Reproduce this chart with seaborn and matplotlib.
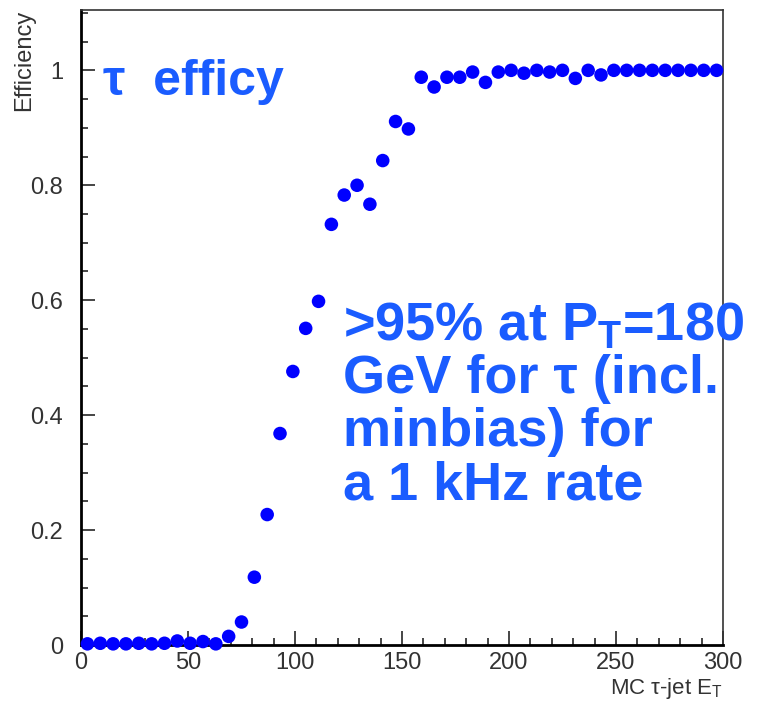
"""
Tau trigger efficiency vs MC tau-jet ET
"""

import numpy as np
import pandas as pd
import matplotlib
matplotlib.use("Agg")
import matplotlib.pyplot as plt
from matplotlib.ticker import MultipleLocator
import seaborn as sns

# ---------------------------------------------------------------------------
# Data (bin centres, 6 GeV bins)
# ---------------------------------------------------------------------------
et_bins = [3, 9, 15, 21, 27, 33, 39, 45, 51, 57, 63,
           69, 75, 81, 87, 93, 99, 105, 111, 117, 123, 129, 135, 141, 147, 153,
           159, 165, 171, 177, 183, 189, 195, 201, 207, 213, 219, 225, 231, 237,
           243, 249, 255, 261, 267, 273, 279, 285, 291, 297]
efficiency = [0.002, 0.003, 0.002, 0.002, 0.003, 0.002, 0.003, 0.007, 0.003, 0.006, 0.002,
              0.015, 0.040, 0.118, 0.227, 0.368, 0.476, 0.551, 0.598, 0.732, 0.783, 0.800,
              0.767, 0.843, 0.911, 0.898,
              0.988, 0.971, 0.988, 0.988, 0.997, 0.979, 0.997, 1.0, 0.995, 1.0, 0.997,
              1.0, 0.986, 1.0, 0.992, 1.0, 1.0, 1.0, 1.0, 1.0, 1.0, 1.0, 1.0, 1.0]

title_text = "\u03c4  efficy"
note_lines = [">95% at P$_{\\mathbf{T}}$=180",
              "GeV for \u03c4 (incl.",
              "minbias) for",
              "a 1 kHz rate"]

df = pd.DataFrame({"et": et_bins, "eff": efficiency})

sns.set_style("ticks")
plt.rcParams["font.family"] = ["Liberation Sans", "DejaVu Sans"]
plt.rcParams["mathtext.fontset"] = "custom"
plt.rcParams["mathtext.rm"] = "Liberation Sans"
plt.rcParams["mathtext.bf"] = "Liberation Sans:bold"

fig = plt.figure(figsize=(7.62, 7.02), dpi=100)
ax = fig.add_axes([81 / 762, 1 - 645 / 702, (723 - 81) / 762, (645 - 10) / 702])

sns.scatterplot(data=df, x="et", y="eff", ax=ax, color="#0000ff",
                s=95, edgecolor="none", marker="o", clip_on=False, zorder=3)

ax.set_xlim(0, 300)
ax.set_ylim(0, 1.105)
ax.xaxis.set_major_locator(MultipleLocator(50))
ax.xaxis.set_minor_locator(MultipleLocator(10))
ax.yaxis.set_major_locator(MultipleLocator(0.2))
ax.yaxis.set_minor_locator(MultipleLocator(0.05))
ax.yaxis.set_major_formatter(plt.FuncFormatter(lambda v, p: f"{v:g}"))
ax.tick_params(which="major", direction="in", length=10, width=1.2,
               labelsize=17, labelcolor="#333333")
ax.tick_params(which="minor", direction="in", length=5, width=1.2)
ax.tick_params(axis="y", pad=13)
ax.tick_params(axis="x", pad=5)
for sp in ax.spines.values():
    sp.set_linewidth(1.2)
    sp.set_color("#333333")
ax.spines["left"].set_linewidth(2)
ax.spines["bottom"].set_linewidth(2)
ax.spines["left"].set_color("black")
ax.spines["bottom"].set_color("black")

ax.set_xlabel("MC \u03c4-jet E$_{\\mathrm{T}}$", loc="right", fontsize=16,
              color="#333333", va="baseline")
ax.xaxis.set_label_coords(1.0, -0.0765)
ax.set_ylabel("Efficiency", loc="top", fontsize=17, color="#333333")
ax.yaxis.set_label_coords(-0.072, 1.0)

blue = "#1a5cff"
fig.text(103 / 762, 1 - 95 / 702, title_text, color=blue, fontsize=36,
         fontweight="bold", ha="left", va="baseline")
for i, line in enumerate(note_lines):
    fig.text(343 / 762, 1 - (340 + 53 * i) / 702, line, color=blue, fontsize=39,
             fontweight="bold", ha="left", va="baseline")

fig.savefig("out.png", dpi=100)
